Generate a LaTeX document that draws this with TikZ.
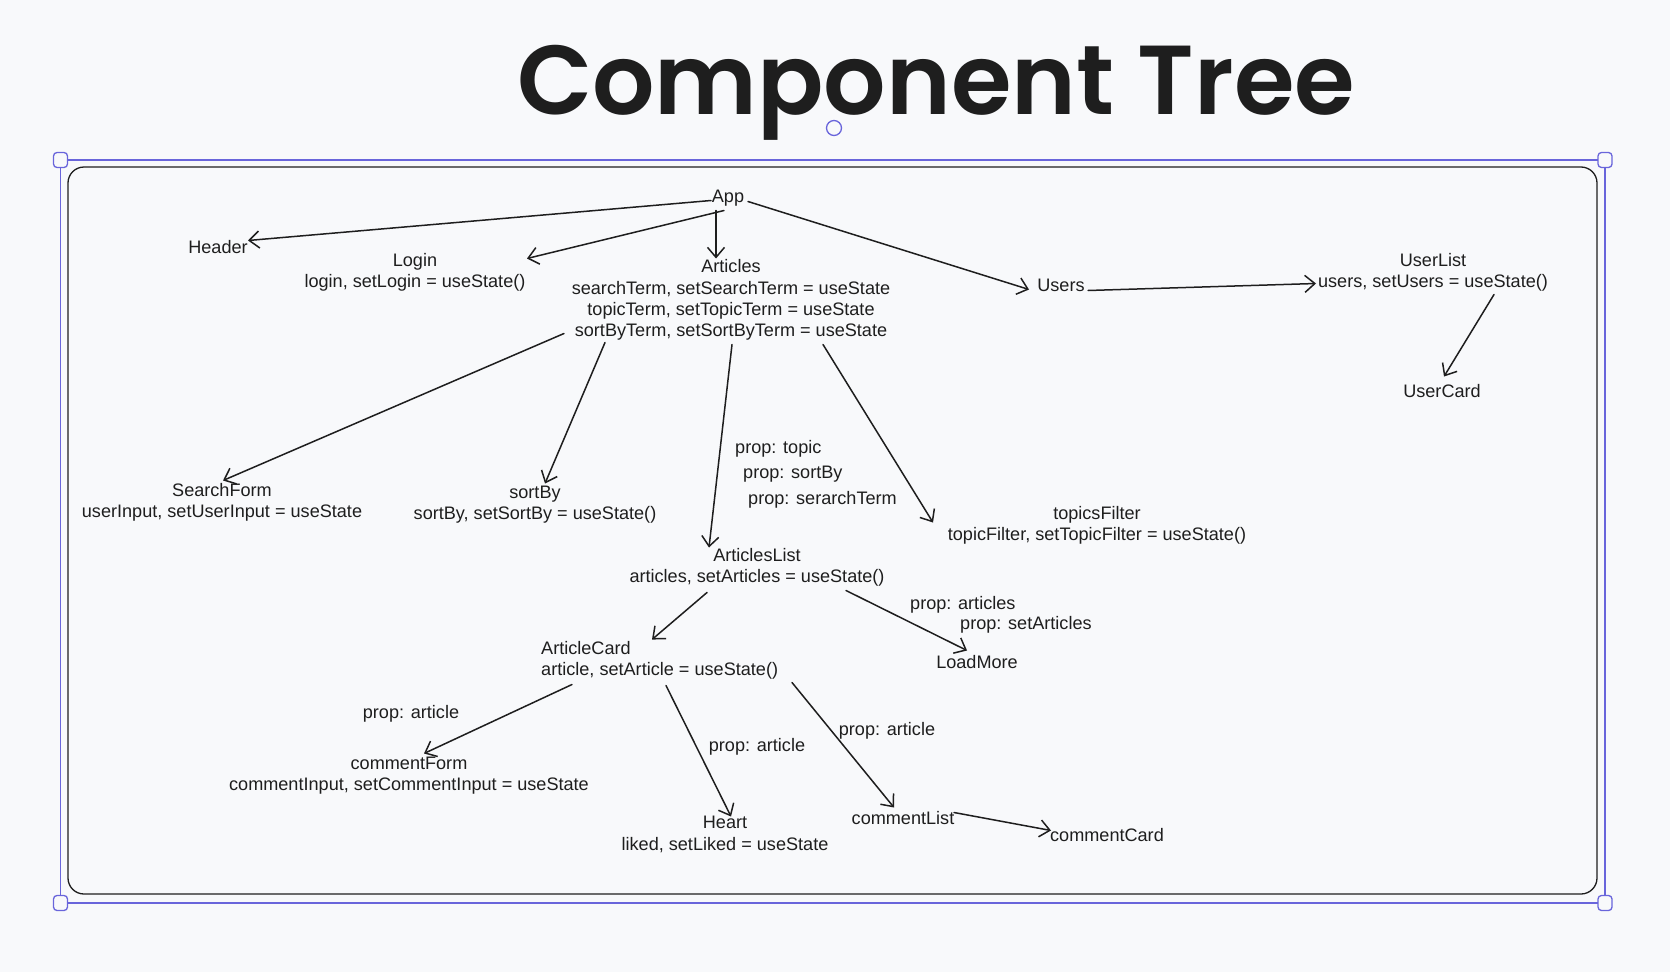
\documentclass[tikz,border=0pt]{standalone}
\usepackage{fontspec}
\setmainfont{Liberation Sans}
\newfontfamily\titlefont{Poppins}[UprightFont=* SemiBold]
\usetikzlibrary{arrows.meta}
\definecolor{bg}{HTML}{F8F9FB}
\definecolor{ink}{HTML}{1E1E1E}
\definecolor{sel}{HTML}{6965DB}
\tikzset{
  lbl/.style={inner sep=0pt, align=center, font=\fontsize{18.1}{21.3}\selectfont, text=ink, yshift=-1.5pt},
  lbll/.style={inner sep=0pt, align=left, font=\fontsize{18.1}{21.3}\selectfont, text=ink, yshift=-1.5pt},
  arr/.style={draw=ink, line width=1.5pt, line cap=round, -{Straight Barb[length=10pt,width=17pt,line width=1.5pt]}},
  handle/.style={draw=sel, fill=bg, line width=1.3pt, rounded corners=3.5pt, minimum width=14pt, minimum height=15pt, inner sep=0pt}
}
\begin{document}
\begin{tikzpicture}[x=1pt,y=-1pt]
\useasboundingbox[fill=bg] (0,0) rectangle (1670,972);
% title
\node[anchor=base, inner sep=0pt, text=ink, font=\titlefont\fontsize{98}{104}\selectfont] (title) at (936,114) {Component Tree};
% frame
\draw[ink, line width=1.3pt, rounded corners=16pt] (68,167) rectangle (1597,894);
% selection
\draw[sel, line width=1.6pt] (60.5,160) rectangle (1605,903);
\node[handle] (h1) at (60.5,160) {};
\node[handle] (h2) at (1605,160) {};
\node[handle] (h3) at (60.5,903) {};
\node[handle] (h4) at (1605,903) {};
\node[draw=sel, fill=bg, line width=1.3pt, circle, minimum size=15pt, inner sep=0pt] (rot) at (834,128) {};
% nodes
\node[lbl] (app) at (728,197) {App};
\node[lbl] (header) at (218,246) {Header};
\node[lbl] (login) at (415,270.5) {Login\\login, setLogin = useState()};
\node[lbl] (articles) at (731,298.5) {Articles\\searchTerm, setSearchTerm = useState\\topicTerm, setTopicTerm = useState\\sortByTerm, setSortByTerm = useState};
\node[lbl] (users) at (1061,284) {Users};
\node[lbl] (userlist) at (1433,271) {UserList\\users, setUsers = useState()};
\node[lbl] (usercard) at (1442,390) {UserCard};
\node[lbl] (searchform) at (222,501) {SearchForm\\userInput, setUserInput = useState};
\node[lbl] (sortby) at (535,503) {sortBy\\sortBy, setSortBy = useState()};
\node[lbl] (topicsfilter) at (1097,523.5) {topicsFilter\\topicFilter, setTopicFilter = useState()};
\node[lbl] (articleslist) at (757,566) {ArticlesList\\articles, setArticles = useState()};
\node[lbl] (loadmore) at (977,661) {LoadMore};
\node[lbll, anchor=west] (articlecard) at (541,659) {ArticleCard\\article, setArticle = useState()};
\node[lbl] (commentform) at (409,774) {commentForm\\commentInput, setCommentInput = useState};
\node[lbl] (heart) at (725,833) {Heart\\liked, setLiked = useState};
\node[lbl] (commentlist) at (903,817) {commentList};
\node[lbl] (commentcard) at (1107,834) {commentCard};
% prop labels
\node[lbl, anchor=west] (p1) at (735,447) {prop: topic};
\node[lbl, anchor=west] (p2) at (743,473) {prop: sortBy};
\node[lbl, anchor=west] (p3) at (748,498) {prop: serarchTerm};
\node[lbl, anchor=west] (p4) at (910,603) {prop: articles};
\node[lbl, anchor=west] (p5) at (960,623) {prop: setArticles};
\node[lbl] (p6) at (411,712) {prop: article};
\node[lbl] (p7) at (757,745) {prop: article};
\node[lbl] (p8) at (887,729) {prop: article};
% connectors
\draw[arr] ([shift={(-17,2)}]app.center) -- ([shift={(30,-7)}]header.center);
\draw[arr] ([shift={(-4,12)}]app.center) -- ([shift={(112,-13.5)}]login.center);
\draw[arr] ([shift={(-12,12)}]app.center) -- ([shift={(-15,-41.5)}]articles.center);
\draw[arr] ([shift={(20,3)}]app.center) -- ([shift={(-32,4)}]users.center);
\draw[arr] ([shift={(27,5)}]users.center) -- ([shift={(-117,11)}]userlist.center);
\draw[arr] ([shift={(61,22)}]userlist.center) -- ([shift={(2,-15)}]usercard.center);
\draw[arr] ([shift={(-167,33.5)}]articles.center) -- ([shift={(1,-22)}]searchform.center);
\draw[arr] ([shift={(-126,42.5)}]articles.center) -- ([shift={(10,-21)}]sortby.center);
\draw[arr] ([shift={(1,44.5)}]articles.center) -- ([shift={(-48,-20)}]articleslist.center);
\draw[arr] ([shift={(92,44.5)}]articles.center) -- ([shift={(-164,-2.5)}]topicsfilter.center);
\draw[arr] ([shift={(-50,25)}]articleslist.center) -- ([shift={(111,-21)}]articlecard.west);
\draw[arr] ([shift={(89,23)}]articleslist.center) -- ([shift={(-10,-12)}]loadmore.center);
\draw[arr] ([shift={(31,24)}]articlecard.west) -- ([shift={(15,-22)}]commentform.center);
\draw[arr] ([shift={(125,25)}]articlecard.west) -- ([shift={(6,-18)}]heart.center);
\draw[arr] ([shift={(251,22)}]articlecard.west) -- ([shift={(-9,-11)}]commentlist.center);
\draw[arr] ([shift={(51,-6)}]commentlist.center) -- ([shift={(-56,-5)}]commentcard.center);
\end{tikzpicture}
\end{document}
